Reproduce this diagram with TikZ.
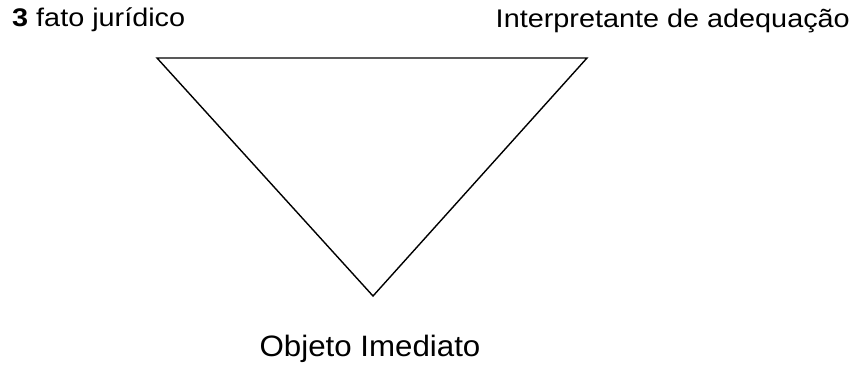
\documentclass[tikz,border=0pt]{standalone}
\usepackage{fontspec}
\setmainfont{Liberation Sans}
\usepackage{tikz}
\usetikzlibrary{positioning}

\newcommand{\widetext}[2]{\scalebox{#1}[1]{#2}}

\begin{document}
\begin{tikzpicture}[
  x=1pt, y=-1pt,
  label/.style={inner sep=0pt, font=\fontsize{25.5}{30}\selectfont},
  biglabel/.style={inner sep=0pt, font=\fontsize{29.5}{34}\selectfont},
  edge/.style={line width=1.4pt, line join=miter}
]
\useasboundingbox (0,0) rectangle (858,367);

% vertices of the triangle
\coordinate (tl) at (157,58);
\coordinate (tr) at (587,58);
\coordinate (bt) at (373,296);

\node[label, anchor=base west] (fato) at (12,26.5) {\widetext{1.13}{\textbf{3} fato jurídico}};
\node[label, anchor=base east] (interp) at (850,27) {\widetext{1.13}{Interpretante de adequação}};
\node[biglabel, anchor=base] (objeto) at (370,356) {\widetext{1.06}{Objeto Imediato}};

\draw[edge] (tl) -- (tr) -- (bt) -- cycle;

\end{tikzpicture}
\end{document}
